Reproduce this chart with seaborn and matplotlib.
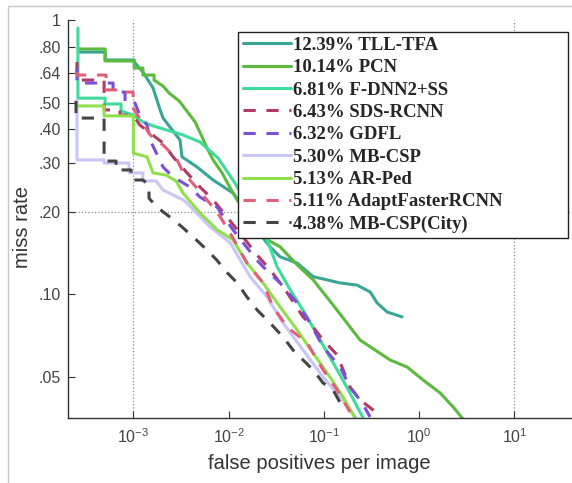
import pandas as pd
import matplotlib.pyplot as plt
import seaborn as sns
from matplotlib.lines import Line2D
from matplotlib.ticker import NullLocator, FixedLocator

# methods in legend order, with log-average miss rate
methods = ["TLL-TFA", "PCN", "F-DNN2+SS", "SDS-RCNN", "GDFL",
           "MB-CSP", "AR-Ped", "AdaptFasterRCNN", "MB-CSP(City)"]
lamr = [12.39, 10.14, 6.81, 6.43, 6.32, 5.30, 5.13, 5.11, 4.38]
colors = ["#3aa595", "#5cba3c", "#3ddc9c", "#b03a68", "#7b4fd6",
          "#c8c6f2", "#8fe04a", "#e0607a", "#454545"]
dashed = [False, False, False, True, True, False, False, True, True]

# curves (false positives per image, miss rate)
tll_fppi = [2.62e-4, 5.05e-4, 5.05e-4, 1.02e-3, 1.02e-3, 1.26e-3, 1.61e-3, 1.91e-3, 2.05e-3,
            3.09e-3, 3.24e-3, 4.67e-3, 6.87e-3, 1.11e-2, 1.26e-2, 2.25e-2, 2.72e-2, 3.47e-2,
            5.24e-2, 7.70e-2, 0.148, 0.223, 0.306, 0.362, 0.461, 0.662]
tll_miss = [0.764, 0.764, 0.715, 0.715, 0.703, 0.646, 0.565, 0.470, 0.439,
            0.365, 0.317, 0.291, 0.261, 0.234, 0.221, 0.162, 0.149, 0.137,
            0.130, 0.116, 0.110, 0.108, 0.102, 0.0930, 0.0862, 0.0827]

pcn_fppi = [2.62e-4, 5.05e-4, 5.05e-4, 1.02e-3, 1.02e-3, 1.26e-3, 1.26e-3, 1.65e-3, 1.65e-3,
            2.05e-3, 2.37e-3, 3.02e-3, 3.57e-3, 4.45e-3, 5.26e-3, 5.94e-3, 6.87e-3, 8.54e-3,
            1.04e-2, 1.23e-2, 1.68e-2, 2.25e-2, 3.47e-2, 5.24e-2, 7.70e-2, 0.125, 0.24,
            0.496, 0.748, 1.10, 1.66, 2.28, 2.83]
pcn_miss = [0.784, 0.784, 0.709, 0.709, 0.668, 0.668, 0.630, 0.630, 0.604,
            0.574, 0.542, 0.507, 0.470, 0.425, 0.375, 0.341, 0.309, 0.277,
            0.244, 0.221, 0.187, 0.162, 0.149, 0.128, 0.113, 0.0914, 0.0681,
            0.0576, 0.0543, 0.0487, 0.0437, 0.0388, 0.0354]

fdnn_fppi = [2.62e-4, 2.62e-4, 5.05e-4, 5.05e-4, 7.43e-4, 7.43e-4, 9.93e-4, 1.26e-3, 1.61e-3,
             3.32e-3, 5.01e-3, 7.75e-3, 1.17e-2, 2.54e-2, 3.23e-2, 4.42e-2, 6.67e-2, 9.12e-2,
             0.138, 0.188, 0.258]
fdnn_miss = [0.935, 0.519, 0.519, 0.494, 0.494, 0.466, 0.450, 0.425, 0.411,
             0.381, 0.359, 0.314, 0.254, 0.158, 0.126, 0.104, 0.0827, 0.0681,
             0.0530, 0.0437, 0.0354]

sds_fppi = [2.56e-4, 2.56e-4, 4.93e-4, 4.93e-4, 7.25e-4, 7.25e-4, 9.93e-4, 1.17e-3, 1.50e-3,
            2.05e-3, 2.61e-3, 3.66e-3, 5.01e-3, 6.87e-3, 9.63e-3, 1.32e-2, 1.99e-2, 2.72e-2,
            3.92e-2, 6.05e-2, 7.70e-2, 9.81e-2, 0.138, 0.188, 0.240, 0.362]
sds_miss = [0.703, 0.604, 0.604, 0.470, 0.470, 0.450, 0.450, 0.414, 0.387,
            0.356, 0.317, 0.277, 0.246, 0.221, 0.191, 0.167, 0.139, 0.123,
            0.104, 0.0827, 0.0760, 0.0681, 0.0601, 0.0459, 0.0412, 0.0369]

gdfl_fppi = [2.56e-4, 2.56e-4, 6.12e-4, 6.12e-4, 8.18e-4, 8.18e-4, 1.04e-3, 1.17e-3, 1.39e-3,
             1.50e-3, 2.05e-3, 2.61e-3, 3.94e-3, 5.01e-3, 7.56e-3, 1.11e-2, 1.42e-2, 1.99e-2,
             2.30e-2, 3.47e-2, 5.24e-2, 7.16e-2, 9.81e-2, 0.148, 0.188, 0.252, 0.306]
gdfl_miss = [0.668, 0.589, 0.589, 0.546, 0.546, 0.498, 0.498, 0.450, 0.414,
             0.365, 0.291, 0.268, 0.246, 0.226, 0.208, 0.172, 0.154, 0.133,
             0.126, 0.110, 0.0930, 0.0786, 0.0643, 0.0543, 0.0459, 0.0402, 0.0357]

csp_fppi = [2.56e-4, 2.56e-4, 4.93e-4, 4.93e-4, 9.01e-4, 9.01e-4, 1.26e-3, 1.26e-3, 1.73e-3,
            2.05e-3, 3.32e-3, 3.66e-3, 6.39e-3, 1.04e-2, 1.68e-2, 2.54e-2, 3.73e-2, 6.05e-2,
            9.81e-2, 0.148, 0.218]
csp_miss = [0.511, 0.309, 0.309, 0.301, 0.301, 0.277, 0.277, 0.259, 0.259,
            0.240, 0.221, 0.215, 0.176, 0.154, 0.116, 0.0977, 0.0786, 0.0626,
            0.0499, 0.0422, 0.0354]

arped_fppi = [2.56e-4, 4.93e-4, 4.93e-4, 1.0e-3, 1.0e-3, 1.39e-3, 1.61e-3, 2.20e-3, 2.81e-3,
              3.32e-3, 5.01e-3, 7.56e-3, 1.11e-2, 1.56e-2, 2.30e-2, 3.47e-2, 5.24e-2, 7.70e-2,
              0.116, 0.159, 0.213]
arped_miss = [0.486, 0.486, 0.447, 0.447, 0.327, 0.317, 0.277, 0.272, 0.259,
              0.234, 0.198, 0.172, 0.158, 0.130, 0.110, 0.0899, 0.0741, 0.0611,
              0.0499, 0.0422, 0.0354]

adapt_fppi = [2.56e-4, 2.56e-4, 5.17e-4, 5.17e-4, 7.61e-4, 7.61e-4, 9.93e-4, 9.93e-4, 1.50e-3,
              2.05e-3, 2.81e-3, 3.32e-3, 4.45e-3, 7.56e-3, 1.04e-2, 1.56e-2, 2.30e-2, 2.93e-2,
              4.11e-2, 6.67e-2, 9.81e-2, 0.138, 0.188]
adapt_miss = [0.646, 0.630, 0.630, 0.556, 0.556, 0.546, 0.546, 0.478, 0.381,
              0.350, 0.314, 0.279, 0.248, 0.200, 0.167, 0.130, 0.110, 0.0899,
              0.0760, 0.0665, 0.0530, 0.0448, 0.0372]

city_fppi = [2.50e-4, 2.50e-4, 4.93e-4, 4.93e-4, 6.58e-4, 6.58e-4, 9.46e-4, 9.46e-4, 1.26e-3,
             1.46e-3, 1.46e-3, 1.77e-3, 2.43e-3, 3.24e-3, 4.23e-3, 5.94e-3, 7.56e-3, 9.63e-3,
             1.23e-2, 1.56e-2, 1.99e-2, 2.72e-2, 3.73e-2, 4.75e-2, 7.70e-2, 9.81e-2, 0.125, 0.163]
city_miss = [0.507, 0.439, 0.439, 0.306, 0.306, 0.284, 0.284, 0.261, 0.261,
             0.250, 0.224, 0.208, 0.191, 0.176, 0.162, 0.145, 0.133, 0.120,
             0.110, 0.0977, 0.0877, 0.0786, 0.0699, 0.0626, 0.0530, 0.0475, 0.0448, 0.0379]

x_ticks = [1e-3, 1e-2, 1e-1, 1, 10]
y_ticks = [1, 0.80, 0.64, 0.50, 0.40, 0.30, 0.20, 0.10, 0.05]
y_ticklabels = ["1", ".80", ".64", ".50", ".40", ".30", ".20", ".10", ".05"]

curves = {
    "TLL-TFA": (tll_fppi, tll_miss),
    "PCN": (pcn_fppi, pcn_miss),
    "F-DNN2+SS": (fdnn_fppi, fdnn_miss),
    "SDS-RCNN": (sds_fppi, sds_miss),
    "GDFL": (gdfl_fppi, gdfl_miss),
    "MB-CSP": (csp_fppi, csp_miss),
    "AR-Ped": (arped_fppi, arped_miss),
    "AdaptFasterRCNN": (adapt_fppi, adapt_miss),
    "MB-CSP(City)": (city_fppi, city_miss),
}

frames = []
for m in methods:
    f, mr = curves[m]
    frames.append(pd.DataFrame({"method": m, "fppi": f, "miss": mr}))
df = pd.concat(frames, ignore_index=True)

sns.set_style("white")
plt.rcParams["font.family"] = ["Liberation Sans", "DejaVu Sans"]

fig = plt.figure(figsize=(5.72, 4.83), dpi=100)
ax = fig.add_axes([0.1184, 0.1346, 0.8808, 0.824])
ax.set_xscale("log")
ax.set_yscale("log")

sns.lineplot(data=df, x="fppi", y="miss", hue="method", style="method",
             hue_order=methods, style_order=methods,
             palette=dict(zip(methods, colors)),
             dashes={m: (4, 3.5) if d else "" for m, d in zip(methods, dashed)},
             sort=False, estimator=None, linewidth=2.2, legend=False, ax=ax)
handles = list(ax.lines[:len(methods)])

# dotted reference lines
for xv in [1e-3, 10]:
    ax.axvline(xv, color="#8a8a8a", ls=":", lw=0.9, zorder=0)
ax.axhline(0.2, color="#8a8a8a", ls=":", lw=0.9, zorder=0)

ax.set_xlim(10 ** -3.689, 10 ** 1.6)
ax.set_ylim(0.0354, 1.0)
ax.xaxis.set_major_locator(FixedLocator(x_ticks))
ax.xaxis.set_minor_locator(NullLocator())
ax.set_yticks(y_ticks)
ax.set_yticklabels(y_ticklabels)
ax.yaxis.set_minor_locator(NullLocator())
ax.tick_params(bottom=True, left=True, direction="in", length=5, width=0.8,
               color="#333333", labelsize=11.5, labelcolor="#444444")
ax.tick_params(axis="x", pad=7)
ax.tick_params(axis="y", pad=5)

sns.despine(ax=ax)
for s in ["left", "bottom"]:
    ax.spines[s].set_color("#333333")
    ax.spines[s].set_linewidth(1.0)

ax.set_xlabel("false positives per image", fontsize=14.5, color="#333333")
ax.set_ylabel("miss rate", fontsize=14.5, color="#333333")
ax.xaxis.set_label_coords(0.5, -0.09)
ax.yaxis.set_label_coords(-0.07, 0.48)

labels = [f"{v:.2f}% {m}" for v, m in zip(lamr, methods)]
leg = ax.legend(handles, labels, loc="upper left",
                bbox_to_anchor=(238 / 572, 246 / 483, 330 / 572, 205 / 483),
                bbox_transform=fig.transFigure, mode="expand", borderaxespad=0,
                frameon=True, fancybox=False, framealpha=1, edgecolor="#222222",
                prop=dict(family="Liberation Serif", weight="bold", size=13.5),
                handlelength=2.6, handletextpad=0.1, labelspacing=0.28, borderpad=0.25)
leg.get_frame().set_linewidth(1.0)

# light border of the original figure
fig.add_artist(Line2D([8 / 572, 8 / 572], [0, 1 - 6 / 483], transform=fig.transFigure,
                      color="#c8c8c8", lw=1))
fig.add_artist(Line2D([8 / 572, 1], [1 - 6 / 483, 1 - 6 / 483], transform=fig.transFigure,
                      color="#c8c8c8", lw=1))

fig.savefig("out.png", dpi=100)
